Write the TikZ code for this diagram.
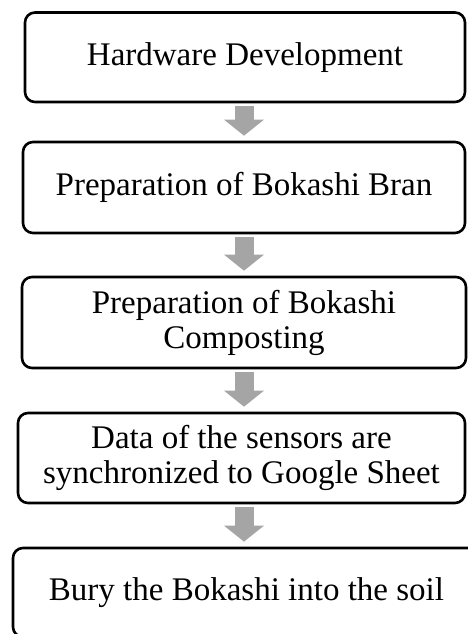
\documentclass[tikz,border=0pt]{standalone}
\usepackage{fontspec}
\setmainfont{Liberation Serif}
\usetikzlibrary{arrows.meta}
\definecolor{arrowgray}{RGB}{165,165,165}

\begin{document}
\begin{tikzpicture}[x=1pt,y=-1pt,
  stepbox/.style={draw=black,line width=2.6pt,rounded corners=10pt,inner sep=0pt,
    align=center,font=\fontsize{33}{35}\selectfont},
  flow/.style={draw=arrowgray,line width=19pt,-{Triangle[width=39pt,length=16pt]},
    shorten <=3pt,shorten >=5pt}]
\useasboundingbox (0,0) rectangle (467,634);
\node[stepbox,minimum width=440pt,minimum height=89.5pt] (b1) at (245,57.25) {Hardware Development};
\node[stepbox,minimum width=442pt,minimum height=91pt] (b2) at (244,187.5) {Preparation of Bokashi Bran};
\node[stepbox,minimum width=444pt,minimum height=91pt] (b3) at (244,322.5) {Preparation of Bokashi\\Composting};
\node[stepbox,minimum width=447pt,minimum height=90pt] (b4) at (241.5,458) {Data of the sensors are\\synchronized to Google Sheet};
\node[stepbox,minimum width=467pt,minimum height=89pt] (b5) at (246.5,592.5) {Bury the Bokashi into the soil};
\coordinate (col) at (244,0);
\draw[flow] (b1.south -| col) -- (b2.north -| col);
\draw[flow] (b2.south -| col) -- (b3.north -| col);
\draw[flow] (b3.south -| col) -- (b4.north -| col);
\draw[flow] (b4.south -| col) -- (b5.north -| col);
\end{tikzpicture}
\end{document}
